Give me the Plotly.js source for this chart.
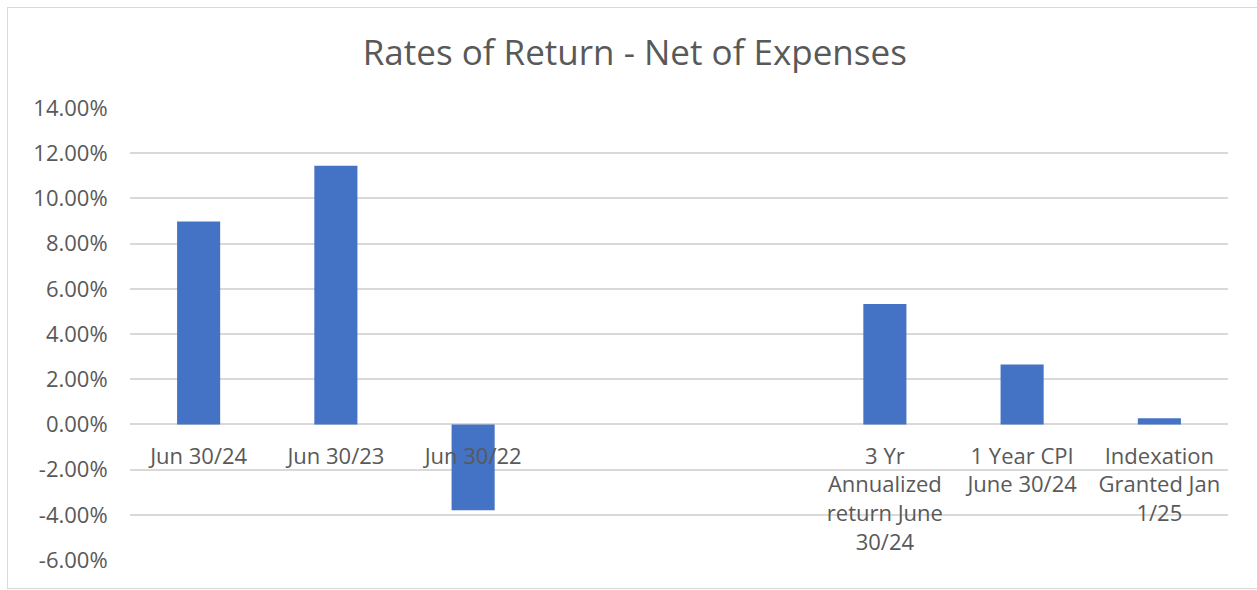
<!DOCTYPE html>
<html>
<head>
<meta charset="utf-8">
<script src="https://cdn.plot.ly/plotly-3.0.1.min.js"></script>
<style>
  html, body { margin: 0; padding: 0; background: #fff; }
  #wrap { position: relative; width: 1257px; height: 590px; overflow: hidden; }
  #chart { width: 1257px; height: 590px; }
  #frame { position: absolute; left: 7px; top: 7px; width: 1260px; height: 580px; border: 1.5px solid #d9d9d9; pointer-events: none; }
</style>
</head>
<body>
<div id="wrap">
  <div id="chart"></div>
  <div id="frame"></div>
</div>
<script>
const categories = [
  "Jun 30/24",
  "Jun 30/23",
  "Jun 30/22",
  " ",
  "  ",
  "3 Yr<br>Annualized<br>return June<br>30/24",
  "1 Year CPI<br>June 30/24",
  "Indexation<br>Granted Jan<br>1/25"
];
const returnsPct = [8.98, 11.44, -3.8, null, null, 5.33, 2.65, 0.27];
const yTicks = [-6, -4, -2, 0, 2, 4, 6, 8, 10, 12, 14];
const yTickText = yTicks.map(v => v.toFixed(2) + '%');

const fontFam = "'Open Sans', Lato, sans-serif";
const yMin = -6, yMax = 14;

const trace = {
  type: 'bar',
  x: categories,
  y: returnsPct,
  marker: { color: '#4472c4', line: { width: 0 } },
  hoverinfo: 'skip'
};

const layout = {
  width: 1257,
  height: 590,
  margin: { l: 130, r: 29, t: 108, b: 30, pad: 0 },
  paper_bgcolor: '#ffffff',
  plot_bgcolor: '#ffffff',
  showlegend: false,
  bargap: 0.686,
  title: {
    text: 'Rates of Return - Net of Expenses',
    font: { family: fontFam, size: 35, color: '#595959' },
    xref: 'container', x: 0.505, xanchor: 'center',
    yref: 'container', y: 1 - 53 / 590, yanchor: 'middle'
  },
  xaxis: {
    type: 'category',
    anchor: 'free',
    position: (0 - yMin) / (yMax - yMin),
    showgrid: false,
    showline: false,
    zeroline: false,
    ticks: 'outside',
    ticklen: 12,
    tickcolor: 'rgba(0,0,0,0)',
    tickfont: { family: fontFam, size: 22, color: '#595959' },
    fixedrange: true
  },
  yaxis: {
    range: [yMin, yMax],
    tickmode: 'array',
    tickvals: yTicks,
    ticktext: yTickText,
    showgrid: true,
    gridcolor: '#d9d9d9',
    gridwidth: 2,
    zeroline: true,
    zerolinecolor: '#d9d9d9',
    zerolinewidth: 2,
    showline: false,
    ticks: 'outside',
    ticklen: 17,
    tickcolor: 'rgba(0,0,0,0)',
    tickfont: { family: fontFam, size: 22, color: '#595959' },
    fixedrange: true
  }
};

Plotly.newPlot('chart', [trace], layout, { displayModeBar: false, staticPlot: true });
</script>
</body>
</html>
